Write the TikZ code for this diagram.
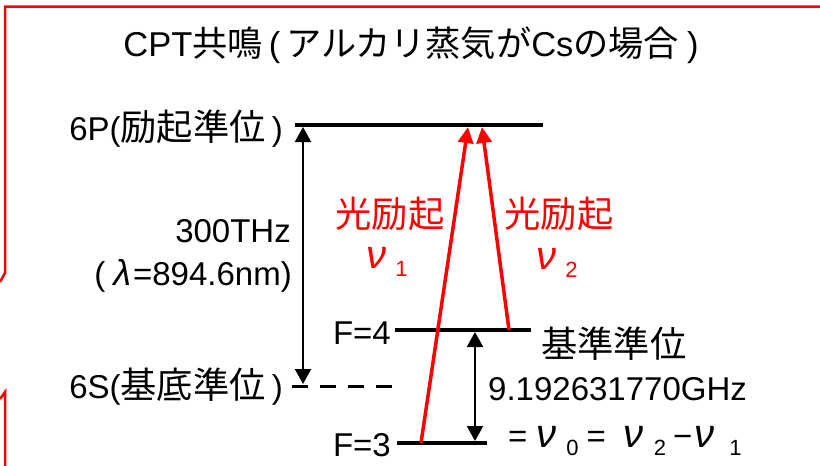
\documentclass[tikz,border=0pt]{standalone}
\usepackage{fontspec}
\setmainfont{Liberation Sans}
\newfontfamily\jpfont[Scale=1.1]{Noto Sans CJK JP}
\newfontfamily\jptitlefont[Scale=1.02]{Noto Sans CJK JP}
\usetikzlibrary{arrows.meta,positioning,calc}

\newcommand{\jp}[1]{{\jpfont #1}}
\newcommand{\jt}[1]{{\jptitlefont #1}}
\newcommand{\nusub}[2][9pt]{{\fontsize{40}{40}\selectfont\textit{ν}}\kern#1\raisebox{-8pt}{\fontsize{22}{22}\selectfont #2}}

\begin{document}
\begin{tikzpicture}[x=1pt,y=-1pt,
        level/.style={line width=3.5pt},
        gap/.style={line width=2.2pt,{Triangle[length=15pt,width=16pt]}-{Triangle[length=15pt,width=16pt]}},
        pump/.style={red,line width=3.5pt,-{Triangle[length=16pt,width=15pt]}},
        lbl/.style={font=\fontsize{33}{38}\selectfont,inner sep=0pt}]
        \useasboundingbox (0,0) rectangle (820,466);

        % Frame (cut on the left)
        \draw[red,line width=2.5pt] (0,282) -- (5,273) -- (5,6.5) -- (822,6.5);
        \draw[red,line width=2.5pt] (0,399) -- (5,392) -- (5,468);

        % Define points
        \coordinate (pL) at (295,125);
        \coordinate (pR) at (543,125);
        \coordinate (sL) at (292,386);
        \coordinate (sR) at (392,386);
        \coordinate (f4L) at (395,330);
        \coordinate (f4R) at (531,330);
        \coordinate (f3L) at (397,443);
        \coordinate (f3R) at (487,443);

        % Draw levels
        \draw[level] (pL) -- (pR);
        \draw[line width=3pt,dash pattern=on 16pt off 12pt] (sL) -- (sR);
        \draw[level] (f4L) -- (f4R);
        \draw[level] (f3L) -- (f3R);

        % Draw arrows
        \coordinate (pa) at (303,127);
        \coordinate (sa) at (303,384);
        \coordinate (f4a) at (475,332);
        \coordinate (f3a) at (475,441);
        \coordinate (pb) at (468,127);
        \coordinate (pc) at (482,127);
        \coordinate (f3b) at (421,443);
        \coordinate (f4b) at (509,330);
        \draw[gap] (pa) -- (sa);
        \draw[gap] (f4a) -- (f3a);
        \draw[pump] (f3b) -- (pb);
        \draw[pump] (f4b) -- (pc);

        % Labels
        \node[lbl,font=\fontsize{34.5}{40}\selectfont] (title) at (411,45) {CPT\jt{共鳴}\kern6pt(\kern6pt\jt{アルカリ蒸気が}Cs\jt{の場合}\kern8pt)};
        \node[lbl,anchor=east] (lp) at (283,129) {6P(\jp{励起準位}\kern6pt)};
        \node[lbl,anchor=east] (lfreq) at (291,231) {300THz};
        \node[lbl,anchor=east] (lwave) at (292,276) {(\kern8pt{\fontsize{36}{36}\selectfont\textit{λ}}\kern2pt=894.6nm)};
        \node[lbl,anchor=east] (ls) at (283,387) {6S(\jp{基底準位}\kern6pt)};
        \node[lbl,anchor=east] (lf4) at (391,333) {F=4};
        \node[lbl,anchor=east] (lf3) at (391,445) {F=3};
        \node[lbl,red] (exc1) at (390,214) {\jp{光励起}};
        \node[lbl,red] (exc2) at (559,214) {\jp{光励起}};
        \node[lbl,red] (nu1) at (387,262) {\nusub{1}};
        \node[lbl,red] (nu2) at (557,263) {\nusub{2}};
        \node[lbl,anchor=west] (lref) at (541,344) {\jp{基準準位}};
        \node[lbl,anchor=west] (lhf) at (488,389) {9.192631770GHz};
        \node[lbl,anchor=west] (lnu) at (508,441) {=\kern9pt\nusub[10pt]{0}\kern8pt=\kern18pt\nusub[10pt]{2}\kern7pt−\kern2pt\nusub[15pt]{1}};
    \end{tikzpicture}
\end{document}
